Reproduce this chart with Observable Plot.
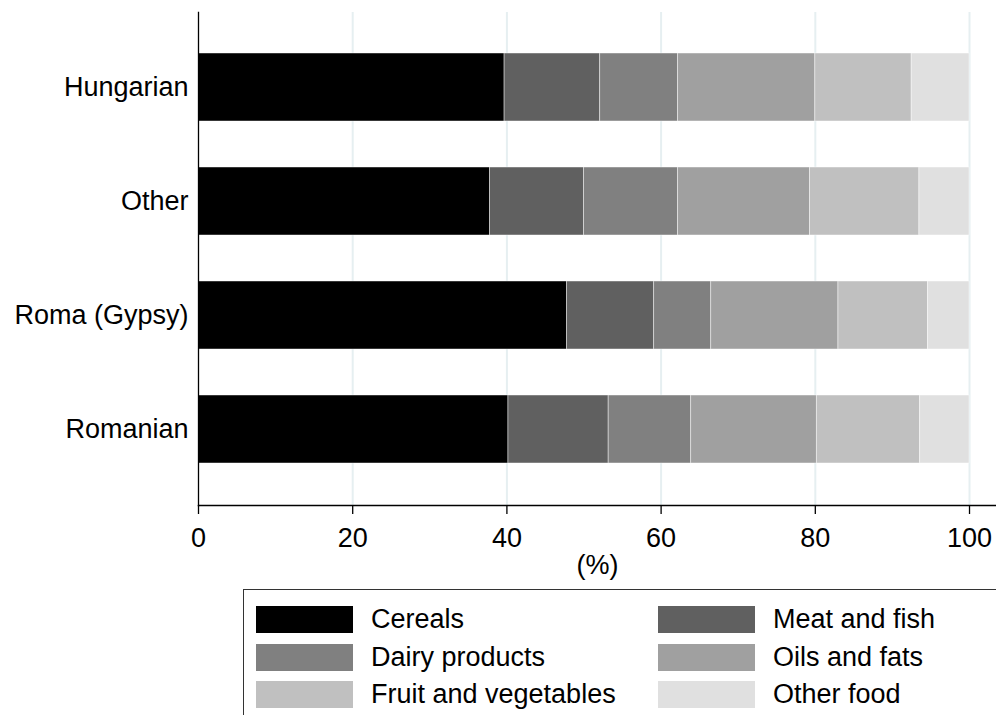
<!DOCTYPE html>
<html>
<head>
<meta charset="utf-8">
<script src="https://cdn.jsdelivr.net/npm/d3@7"></script>
<script src="https://cdn.jsdelivr.net/npm/@observablehq/plot@0.6"></script>
<style>
  html, body { margin: 0; padding: 0; background: #fff; overflow: hidden; }
  body { width: 996px; height: 715px; font-family: "Liberation Sans", Arial, sans-serif; }
  #legend {
    position: absolute; left: 243px; top: 589px; width: 770px; height: 140px;
    border: 1.5px solid #333; box-sizing: border-box;
  }
  .item { position: absolute; display: flex; align-items: center; font-size: 27px; color: #000; line-height: 30px; }
  .sw { width: 97px; height: 27px; margin-right: 18px; }
</style>
</head>
<body>
<div id="chart"></div>
<div id="legend"></div>
<script>
const groups = ["Hungarian", "Other", "Roma (Gypsy)", "Romanian"];
const foods = ["Cereals", "Meat and fish", "Dairy products", "Oils and fats", "Fruit and vegetables", "Other food"];
const colors = ["#000000", "#606060", "#808080", "#a0a0a0", "#c0c0c0", "#e0e0e0"];
const cereals    = [39.7, 37.8, 47.8, 40.2];
const meatFish   = [12.4, 12.2, 11.3, 13.0];
const dairy      = [10.1, 12.2, 7.4, 10.7];
const oilsFats   = [17.8, 17.1, 16.5, 16.3];
const fruitVeg   = [12.5, 14.2, 11.6, 13.4];
const otherFood  = [7.5, 6.5, 5.4, 6.4];
const xTicks = [0, 20, 40, 60, 80, 100];

const series = [cereals, meatFish, dairy, oilsFats, fruitVeg, otherFood];
const data = [];
groups.forEach((g, i) => {
  series.forEach((s, j) => data.push({group: g, food: foods[j], value: s[i]}));
});

const chart = Plot.plot({
  width: 996,
  height: 589,
  marginLeft: 198,
  marginRight: 0,
  marginTop: 12,
  marginBottom: 84,
  style: {fontFamily: "Liberation Sans, Arial, sans-serif", fontSize: "27px", color: "#000", background: "#fff"},
  x: {domain: [0, 103.5], ticks: xTicks, label: null},
  y: {domain: groups, paddingInner: 0.4, paddingOuter: 0.353, label: null},
  color: {domain: foods, range: colors},
  marks: [
    Plot.gridX(xTicks.filter(d => d > 0), {stroke: "#e6eff1", strokeOpacity: 1, strokeWidth: 2}),
    Plot.barX(data, Plot.stackX({x: "value", y: "group", fill: "food", order: foods, stroke: "#ffffff", strokeWidth: 0.8, strokeOpacity: 0.55})),
    Plot.frame({anchor: "left", stroke: "#000", strokeWidth: 1.3}),
    Plot.frame({anchor: "bottom", stroke: "#000", strokeWidth: 1.3}),
    Plot.axisX({ticks: xTicks, tickSize: 9, tickPadding: 13, fontSize: 27, stroke: "#000", strokeWidth: 1.3, label: null}),
    Plot.axisY({tickSize: 0, tickPadding: 10, fontSize: 27, label: null}),
    Plot.text(["(%)"], {frameAnchor: "bottom", dy: 68, fontSize: 27, fill: "#000"})
  ]
});
document.getElementById("chart").appendChild(chart);

const legend = document.getElementById("legend");
const pos = [[12, 14], [414, 14], [12, 52], [414, 52], [12, 89], [414, 89]];
foods.forEach((f, k) => {
  const it = document.createElement("div");
  it.className = "item";
  it.style.left = pos[k][0] + "px";
  it.style.top = pos[k][1] + "px";
  it.innerHTML = `<div class="sw" style="background:${colors[k]}"></div><span>${f}</span>`;
  legend.appendChild(it);
});
</script>
</body>
</html>
